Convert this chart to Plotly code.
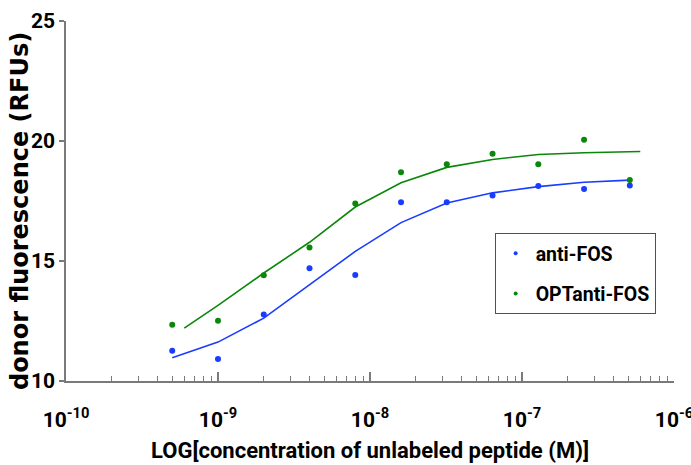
import plotly.graph_objects as go

# Two-fold dilution series of unlabeled peptide (M)
concentration = [5.0e-10, 1.0e-9, 2.0e-9, 4.0e-9, 8.0e-9, 1.6e-8,
                 3.2e-8, 6.4e-8, 1.28e-7, 2.56e-7, 5.12e-7]

# Measured donor fluorescence (RFUs)
anti_fos = [11.26, 10.92, 12.77, 14.70, 14.42, 17.45,
            17.45, 17.73, 18.12, 18.00, 18.15]
opt_anti_fos = [12.34, 12.51, 14.41, 15.56, 17.40, 18.70,
                19.03, 19.47, 19.03, 20.05, 18.37]

# Fitted binding curves
fit_anti_fos_x = concentration
fit_anti_fos_y = [10.97, 11.62, 12.62, 14.02, 15.40, 16.60,
                  17.42, 17.84, 18.10, 18.28, 18.37]
fit_opt_x = [6.0e-10, 1.0e-9, 2.0e-9, 4.0e-9, 8.0e-9, 1.6e-8,
             3.2e-8, 6.4e-8, 1.28e-7, 2.56e-7, 6.0e-7]
fit_opt_y = [12.20, 13.15, 14.50, 15.78, 17.25, 18.26,
             18.90, 19.23, 19.44, 19.51, 19.56]

series_names = ["anti-FOS", "OPTanti-FOS"]
blue = "#1a3cff"
green = "#0b870b"
axis_gray = "#7a7a7a"

x_tick_vals = [1e-10, 1e-9, 1e-8, 1e-7, 1e-6]
x_tick_text = ["10<sup>-10</sup>", "10<sup>-9</sup>", "10<sup>-8</sup>",
               "10<sup>-7</sup>", "10<sup>-6</sup>"]
x_minor_vals = [m * 10.0 ** e for e in range(-10, -6) for m in range(2, 10)]
y_tick_vals = [10, 15, 20, 25]

label_font = "Roboto"

fig = go.Figure()

# fitted curves
fig.add_trace(go.Scatter(x=fit_anti_fos_x, y=fit_anti_fos_y, mode="lines",
                         line=dict(color=blue, width=1.6), showlegend=False,
                         hoverinfo="skip"))
fig.add_trace(go.Scatter(x=fit_opt_x, y=fit_opt_y, mode="lines",
                         line=dict(color=green, width=1.6), showlegend=False,
                         hoverinfo="skip"))

# measured points
fig.add_trace(go.Scatter(x=concentration, y=anti_fos, mode="markers",
                         marker=dict(color=blue, size=6), showlegend=False))
fig.add_trace(go.Scatter(x=concentration, y=opt_anti_fos, mode="markers",
                         marker=dict(color=green, size=6), showlegend=False))

# legend entries (small dots)
for name, col in zip(series_names, [blue, green]):
    fig.add_trace(go.Scatter(x=[None], y=[None], mode="markers", name=name,
                             legendgroup=name,
                             marker=dict(color=col, size=4)))

fig.update_layout(
    width=691, height=465,
    margin=dict(l=66, r=17, t=21, b=84),
    paper_bgcolor="white", plot_bgcolor="white",
    legend=dict(x=0.705, y=0.411, xanchor="left", yanchor="top",
                bordercolor="#505050", borderwidth=1, bgcolor="white",
                font=dict(family=label_font, size=19.5, color="black", weight="bold"),
                tracegroupgap=12, itemwidth=30),
    xaxis=dict(
        type="log", range=[-10, -6],
        tickmode="array", tickvals=x_tick_vals, ticktext=x_tick_text,
        ticks="inside", ticklen=9, tickwidth=1.5, tickcolor=axis_gray,
        minor=dict(tickmode="array", tickvals=x_minor_vals, ticks="inside",
                   ticklen=5, tickwidth=1, tickcolor=axis_gray),
        showline=True, linecolor=axis_gray, linewidth=1.5,
        showgrid=False, zeroline=False,
        tickfont=dict(family=label_font, size=21, color="black", weight="bold"),
        ticklabelstandoff=19, ticklabeloverflow="allow",
        title=dict(text="LOG[concentration of unlabeled peptide (M)]",
                   font=dict(family=label_font, size=22, color="black", weight="bold"),
                   standoff=12),
        automargin=False,
    ),
    yaxis=dict(
        range=[10, 25], tickmode="array", tickvals=y_tick_vals,
        ticks="outside", ticklen=5, tickwidth=1.5, tickcolor=axis_gray,
        showline=True, linecolor=axis_gray, linewidth=1.5,
        showgrid=False, zeroline=False,
        tickfont=dict(family=label_font, size=21, color="black", weight="bold"),
        automargin=False,
    ),
    annotations=[dict(
        text="donor fluorescence (RFUs)", textangle=-90,
        xref="paper", yref="paper", x=-0.0757, y=0.472,
        xanchor="center", yanchor="middle", showarrow=False,
        font=dict(family="DejaVu Sans", size=24, color="black", weight="bold"),
    )],
)

fig.write_html("out.html")
